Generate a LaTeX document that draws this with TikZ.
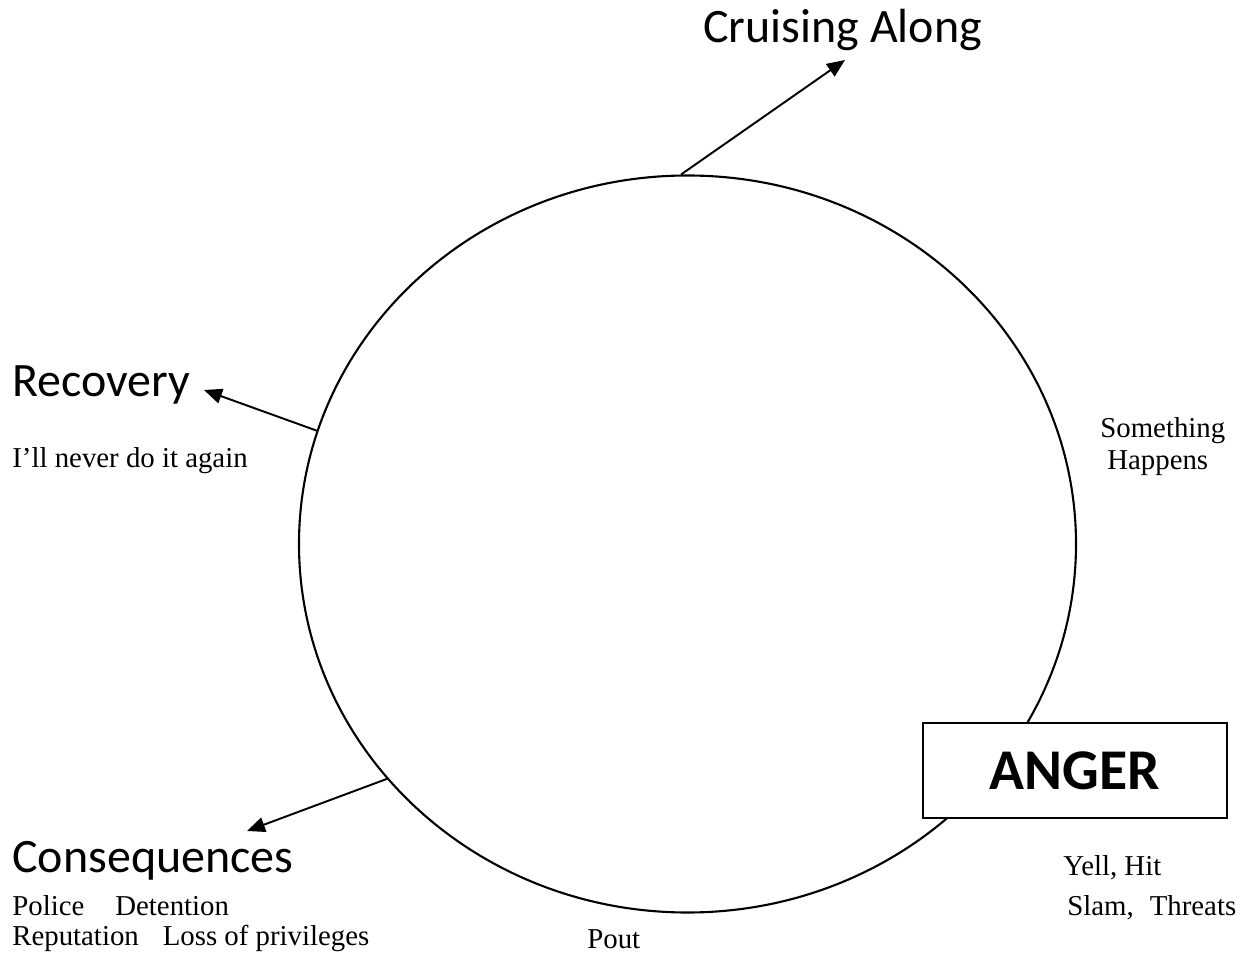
\documentclass[tikz,border=0pt]{standalone}
\usepackage{fontspec}
\setmainfont{Liberation Serif}
\newfontfamily\headfont{Carlito}
\usetikzlibrary{arrows.meta,shapes.geometric}

\tikzset{
  head/.style={font=\headfont\fontsize{27.3}{32}\selectfont,inner sep=0,anchor=base west},
  note/.style={font=\fontsize{16.4}{19}\selectfont,inner sep=0,anchor=base west},
  link/.style={-{Triangle[length=3.6mm,width=3mm]},line width=1.1pt},
}

\begin{document}
\begin{tikzpicture}[x=0.2mm,y=-0.2mm]
\useasboundingbox (0,0) rectangle (1248,957);

% the cycle
\node[ellipse,draw,line width=1.2pt,inner sep=0,
      minimum width=155.4mm,minimum height=147.4mm] (cycle) at (687.5,544) {};

% stages
\node[head] (cruise) at (703,43) {Cruising Along};
\node[head] (recovery) at (12,397) {Recovery};
\node[head] (conseq) at (12,872) {Consequences};

\coordinate (cruiseTip) at (845,60);
\coordinate (recoveryTip) at (204,390);
\coordinate (conseqTip) at (247,831);

\draw[link] (cycle.91.6) -- (cruiseTip);
\draw[link] (cycle.163.9) -- (recoveryTip);
\draw[link] (cycle.218.2) -- (conseqTip);

% anger box on top of the circle
\node[draw,fill=white,line width=1.2pt,minimum width=60.8mm,minimum height=19mm,
      inner sep=0,font=\headfont\bfseries\fontsize{32.8}{38}\selectfont] (anger) at (1075,770.5) {ANGER};

% small notes
\node[note,anchor=base east] (never) at (248,468) {I’ll never do it again};
\node[note] (something) at (1100,438) {Something};
\node[note] (happens) at (1107,470) {Happens};
\node[note] (yell) at (1063,875) {Yell, Hit};
\node[note] (slam) at (1067,915) {Slam,\hspace{3.2mm}Threats};
\node[note] (police) at (12,915) {Police\hspace{6.2mm}Detention};
\node[note] (reput) at (12,945) {Reputation\hspace{4.8mm}Loss of privileges};
\node[note] (pout) at (587,948) {Pout};

\end{tikzpicture}
\end{document}
